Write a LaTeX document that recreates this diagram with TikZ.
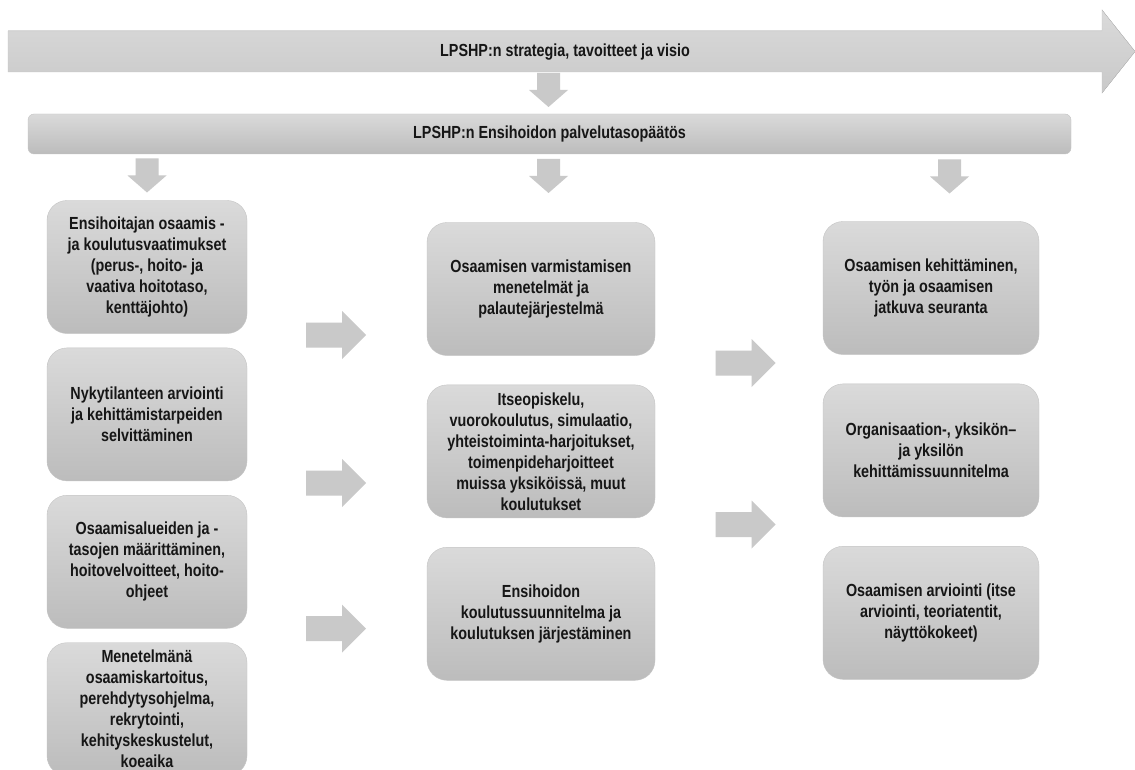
\documentclass[tikz,border=0pt]{standalone}
\usepackage{fontspec}
\setmainfont{Liberation Sans}[FakeStretch=0.82]
\usetikzlibrary{positioning}

\definecolor{boxtop}{RGB}{218,218,218}
\definecolor{boxbot}{RGB}{188,188,188}
\definecolor{boxline}{RGB}{196,196,196}
\definecolor{arrowgray}{RGB}{201,201,201}
\definecolor{txtdark}{RGB}{22,22,22}

\newcommand{\stagefont}{\bfseries\fontsize{17.5}{21}\selectfont}

\tikzset{
	stagebox/.style={draw=boxline, top color=boxtop, bottom color=boxbot, rounded corners=20pt,
		minimum height=133pt, inner sep=0pt, align=center, font=\stagefont, text=txtdark},
	leftbox/.style={stagebox, minimum width=200pt},
	midbox/.style={stagebox, minimum width=228pt},
	rightbox/.style={stagebox, minimum width=216pt},
	titletext/.style={font=\stagefont, text=txtdark, inner sep=0pt},
	% length / shaft / head width / head length
	pics/blockarrow/.style args={#1/#2/#3/#4}{code={
		\fill [arrowgray] (-#1/2,-#2/2) -- (#1/2-#4,-#2/2) -- (#1/2-#4,-#3/2) -- (#1/2,0)
			-- (#1/2-#4,#3/2) -- (#1/2-#4,#2/2) -- (-#1/2,#2/2) -- cycle;
	}}
}

\begin{document}
\begin{tikzpicture}[x=1pt, y=-1pt]
	\useasboundingbox [fill=white] ( 0, 0 ) rectangle ( 1135, 770 );

	% strategy arrow
	\fill [top color=boxtop, bottom color=arrowgray, draw=boxline, line width=0.4pt]
		( 8, 31 ) -- ( 1102, 31 ) -- ( 1102, 10 ) -- ( 1135, 51.5 ) -- ( 1102, 93 ) -- ( 1102, 72 ) -- ( 8, 72 ) -- cycle;
	\node [titletext] (strategia) at ( 565, 52 ) {LPSHP:n strategia, tavoitteet ja visio};
	\pic [rotate=-90] at ( 548.5, 90 ) {blockarrow=34/23/39/17};

	% service level decision
	\node [draw=boxline, top color=boxtop, bottom color=boxbot, rounded corners=6pt,
		minimum width=1043pt, minimum height=40pt, inner sep=0pt] (paatos) at ( 549.5, 134 ) {};
	\node [titletext] (paatostxt) at (paatos.center) {LPSHP:n Ensihoidon palvelutasopäätös};
	\pic [rotate=-90] at ( 147, 175.5 ) {blockarrow=34/23/39/17};
	\pic [rotate=-90] at ( 548.5, 176 ) {blockarrow=34/23/39/17};
	\pic [rotate=-90] at ( 949.5, 176.5 ) {blockarrow=34/23/39/17};

	% left column
	\node [leftbox] (vaatimukset) at ( 147, 267 ) {Ensihoitajan osaamis -\\ja koulutusvaatimukset\\(perus-, hoito- ja\\vaativa hoitotaso,\\kenttäjohto)};
	\node [leftbox, below=14pt of vaatimukset] (nykytila) {Nykytilanteen arviointi\\ja kehittämistarpeiden\\selvittäminen};
	\node [leftbox, below=14pt of nykytila] (osaamisalueet) {Osaamisalueiden ja -\\tasojen määrittäminen,\\hoitovelvoitteet, hoito-\\ohjeet};
	\node [leftbox, below=14pt of osaamisalueet] (menetelma) {Menetelmänä\\osaamiskartoitus,\\perehdytysohjelma,\\rekrytointi,\\kehityskeskustelut,\\koeaika};

	% middle column
	\node [midbox] (varmistus) at ( 541, 289 ) {Osaamisen varmistamisen\\menetelmät ja\\palautejärjestelmä};
	\node [midbox, below=29pt of varmistus] (koulutus) {Itseopiskelu,\\vuorokoulutus, simulaatio,\\yhteistoiminta-harjoitukset,\\toimenpideharjoitteet\\muissa yksiköissä, muut\\koulutukset};
	\node [midbox, below=29pt of koulutus] (suunnitelma) {Ensihoidon\\koulutussuunnitelma ja\\koulutuksen järjestäminen};

	% right column
	\node [rightbox] (seuranta) at ( 931, 288 ) {Osaamisen kehittäminen,\\työn ja osaamisen\\jatkuva seuranta};
	\node [rightbox, below=29pt of seuranta] (kehitys) {Organisaation-, yksikön–\\ja yksilön\\kehittämissuunnitelma};
	\node [rightbox, below=29pt of kehitys] (arviointi) {Osaamisen arviointi (itse\\arviointi, teoriatentit,\\näyttökokeet)};

	% arrows between columns
	\pic at ( 336, 335 ) {blockarrow=60/25/48/24};
	\pic at ( 336, 483 ) {blockarrow=60/25/48/24};
	\pic at ( 336, 628.5 ) {blockarrow=60/25/48/24};
	\pic at ( 745.5, 363 ) {blockarrow=60/25/48/24};
	\pic at ( 745.5, 524.5 ) {blockarrow=60/25/48/24};
\end{tikzpicture}
\end{document}
